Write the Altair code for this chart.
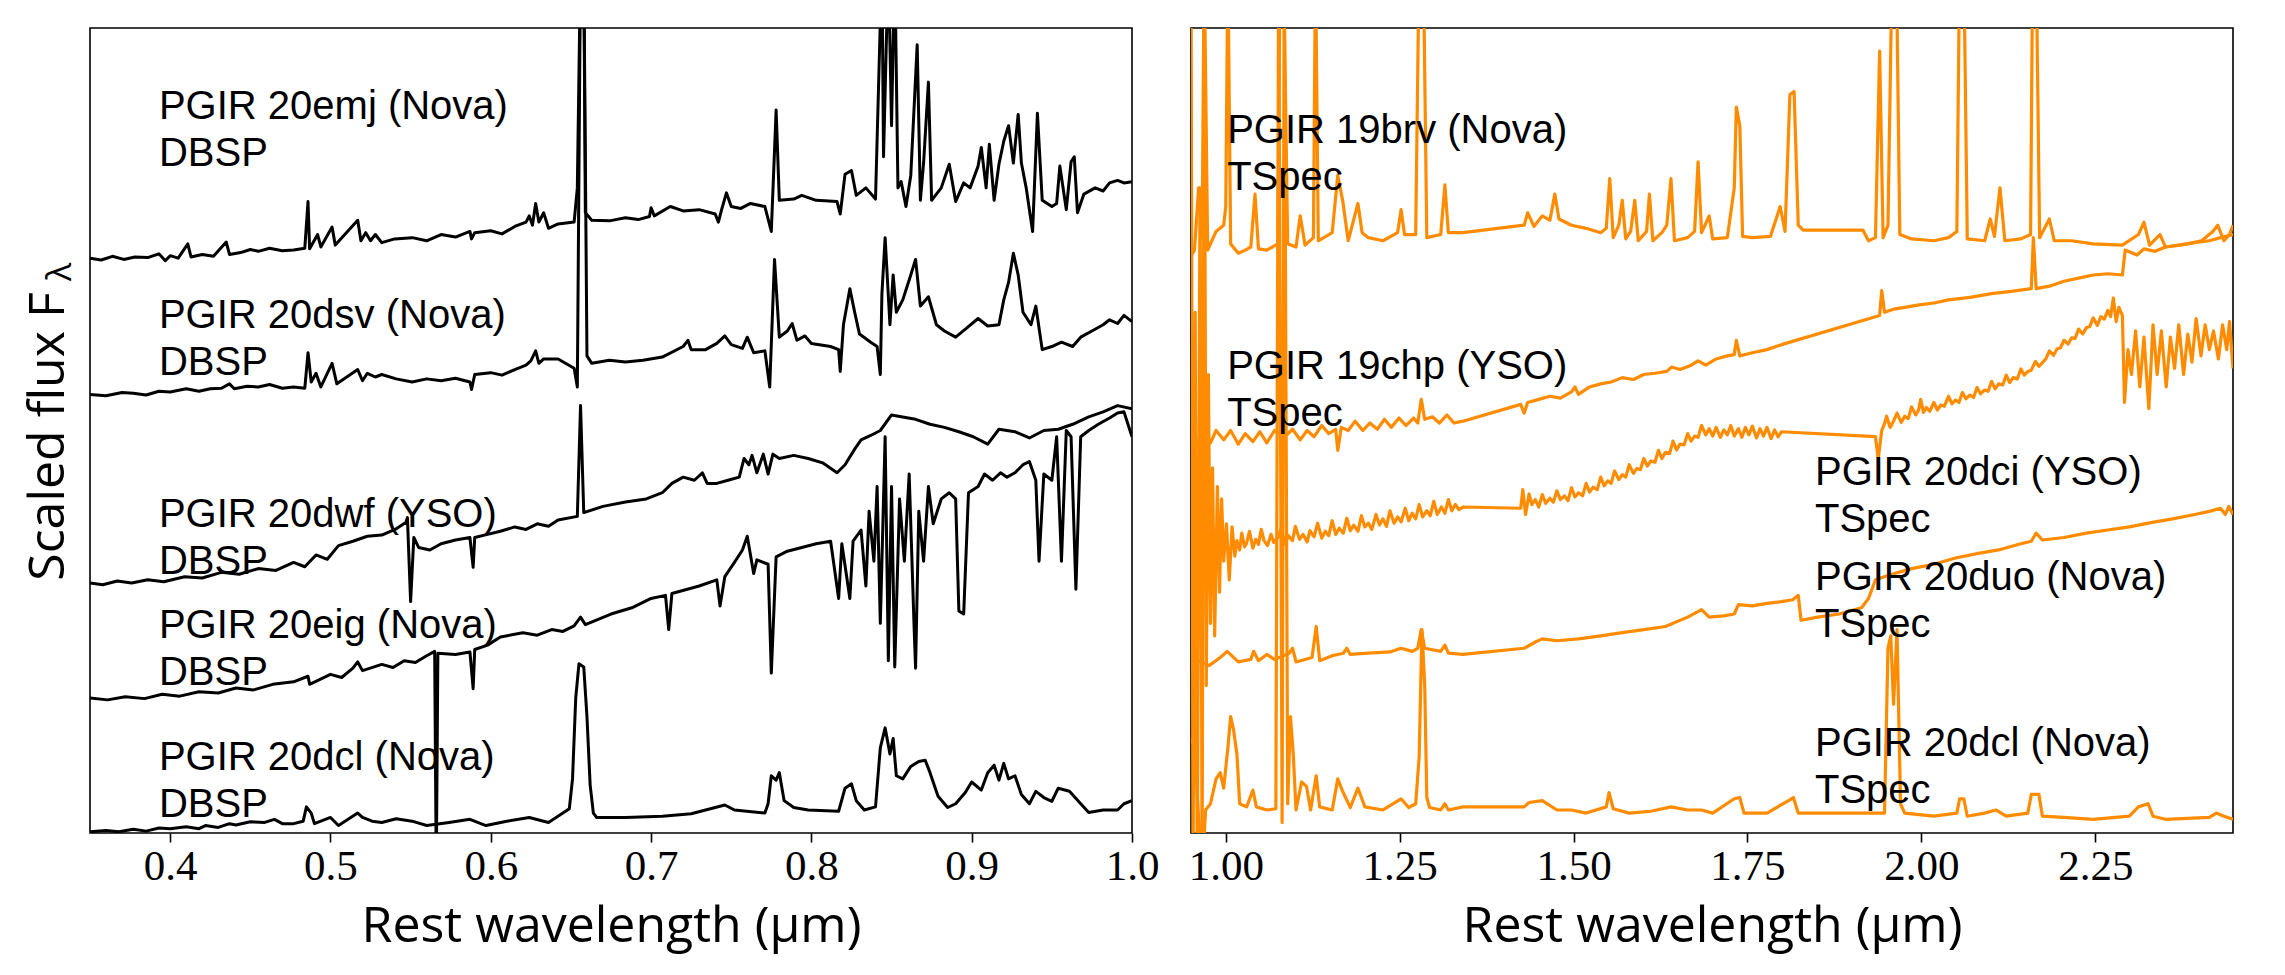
import altair as alt
import pandas as pd

# ---------------- Left panel (DBSP, optical) ----------------
emj_wl = [0.350,0.357,0.364,0.371,0.378,0.386,0.393,0.397,0.400,0.405,0.411,0.413,0.420,0.427,0.435,0.437,0.444,0.450,0.455,0.462,0.470,0.477,0.484,0.486,0.487,0.492,0.494,0.501,0.503,0.517,0.519,0.522,0.525,0.528,0.532,0.540,0.551,0.560,0.569,0.578,0.587,0.588,0.590,0.600,0.607,0.615,0.622,0.624,0.626,0.628,0.630,0.633,0.636,0.642,0.652,0.654,0.656,0.658,0.659,0.663,0.674,0.684,0.692,0.699,0.700,0.702,0.712,0.720,0.730,0.740,0.742,0.744,0.747,0.750,0.756,0.762,0.771,0.775,0.778,0.780,0.789,0.794,0.803,0.816,0.818,0.821,0.825,0.828,0.834,0.840,0.844,0.845,0.848,0.850,0.852,0.854,0.856,0.859,0.862,0.866,0.868,0.870,0.873,0.875,0.881,0.886,0.890,0.895,0.899,0.904,0.906,0.909,0.911,0.914,0.917,0.920,0.923,0.926,0.929,0.931,0.934,0.938,0.941,0.944,0.950,0.953,0.955,0.959,0.962,0.964,0.966,0.970,0.977,0.982,0.986,0.991,0.995,1.000]
emj_flux = [9.24,9.21,9.27,9.22,9.26,9.25,9.31,9.20,9.28,9.24,9.47,9.26,9.30,9.27,9.50,9.30,9.33,9.38,9.35,9.40,9.36,9.37,9.40,10.15,9.39,9.62,9.42,9.74,9.45,9.85,9.52,9.65,9.52,9.62,9.49,9.55,9.57,9.52,9.62,9.58,9.67,9.55,9.65,9.68,9.63,9.75,9.82,9.92,9.77,10.12,9.82,9.97,9.72,9.79,9.82,10.37,14.0,14.0,9.97,9.85,9.84,9.89,9.86,9.91,10.05,9.92,10.07,10.00,10.02,9.95,9.82,10.02,10.29,10.07,10.04,10.12,10.07,9.67,11.62,10.17,10.19,10.25,10.17,10.15,9.95,10.59,10.65,10.25,10.37,10.19,14.0,10.87,14.0,11.37,14.0,10.37,10.47,10.07,10.57,12.67,10.17,10.77,12.07,10.17,10.37,10.75,10.15,10.45,10.37,10.72,11.02,10.37,11.07,10.17,10.75,11.12,11.37,10.77,11.55,10.77,10.37,9.67,11.57,10.17,10.07,10.12,10.72,10.02,10.79,10.87,9.97,10.27,10.37,10.32,10.45,10.49,10.45,10.47]

dsv_wl = [0.350,0.360,0.370,0.377,0.385,0.393,0.400,0.410,0.418,0.425,0.432,0.437,0.440,0.448,0.455,0.462,0.470,0.477,0.484,0.486,0.488,0.491,0.494,0.501,0.504,0.517,0.520,0.523,0.528,0.532,0.541,0.551,0.560,0.569,0.578,0.587,0.588,0.590,0.600,0.607,0.615,0.622,0.625,0.628,0.630,0.633,0.642,0.652,0.654,0.656,0.658,0.660,0.663,0.674,0.684,0.695,0.707,0.720,0.723,0.725,0.734,0.741,0.746,0.750,0.757,0.760,0.764,0.771,0.774,0.777,0.780,0.785,0.788,0.791,0.796,0.800,0.812,0.817,0.818,0.820,0.824,0.827,0.830,0.837,0.841,0.843,0.844,0.846,0.849,0.851,0.853,0.857,0.862,0.865,0.868,0.873,0.878,0.883,0.890,0.897,0.904,0.910,0.917,0.920,0.923,0.926,0.929,0.932,0.937,0.940,0.944,0.950,0.956,0.963,0.968,0.975,0.982,0.986,0.991,0.995,1.000]
dsv_flux = [7.05,7.03,7.08,7.07,7.04,7.10,7.09,7.14,7.10,7.14,7.15,7.22,7.14,7.18,7.17,7.21,7.15,7.17,7.15,7.72,7.25,7.39,7.17,7.55,7.22,7.45,7.27,7.39,7.33,7.37,7.30,7.25,7.30,7.27,7.31,7.25,7.13,7.37,7.40,7.36,7.45,7.52,7.59,7.75,7.55,7.62,7.62,7.47,7.17,14.0,14.0,7.67,7.55,7.60,7.57,7.60,7.65,7.82,7.92,7.77,7.77,7.87,7.99,7.85,7.79,7.97,7.72,7.75,7.17,9.22,7.97,8.07,8.19,7.92,7.99,7.87,7.82,7.77,7.42,8.17,8.75,8.37,8.02,7.89,7.82,7.37,8.67,9.57,8.17,8.97,8.37,8.57,8.97,9.22,8.47,8.62,8.17,8.07,7.97,8.12,8.27,8.15,8.17,8.57,8.85,9.32,8.97,8.37,8.17,8.47,7.77,7.82,7.89,7.82,7.97,8.07,8.17,8.25,8.19,8.32,8.22]

dwf_wl = [0.350,0.358,0.367,0.376,0.386,0.396,0.409,0.420,0.432,0.443,0.455,0.466,0.477,0.484,0.491,0.498,0.505,0.514,0.523,0.532,0.541,0.547,0.548,0.550,0.552,0.555,0.562,0.569,0.578,0.587,0.589,0.590,0.598,0.606,0.615,0.622,0.629,0.636,0.642,0.654,0.656,0.658,0.670,0.684,0.697,0.707,0.713,0.720,0.727,0.732,0.735,0.741,0.748,0.755,0.758,0.761,0.763,0.766,0.770,0.773,0.776,0.780,0.789,0.798,0.807,0.816,0.821,0.827,0.831,0.837,0.843,0.850,0.856,0.865,0.874,0.883,0.892,0.901,0.910,0.917,0.927,0.936,0.945,0.954,0.963,0.973,0.982,0.991,1.000]
dwf_flux = [4.02,3.99,4.05,4.02,4.07,4.04,4.12,4.10,4.19,4.16,4.25,4.22,4.35,4.28,4.47,4.40,4.62,4.69,4.77,4.79,4.89,4.99,5.07,3.72,4.75,4.59,4.55,4.65,4.71,4.75,4.27,4.75,4.80,4.85,4.92,4.88,4.97,4.93,5.03,5.09,6.87,5.15,5.25,5.32,5.37,5.47,5.62,5.72,5.67,5.79,5.62,5.62,5.67,5.72,6.02,5.92,6.07,5.79,6.09,5.77,6.09,6.02,6.07,6.02,5.95,5.79,5.92,6.17,6.32,6.39,6.47,6.72,6.69,6.65,6.57,6.52,6.45,6.37,6.25,6.49,6.45,6.35,6.47,6.49,6.57,6.69,6.77,6.87,6.82]

eig_wl = [0.350,0.361,0.372,0.384,0.395,0.406,0.418,0.430,0.441,0.452,0.464,0.477,0.486,0.487,0.500,0.507,0.514,0.517,0.520,0.532,0.539,0.546,0.553,0.560,0.565,0.566,0.567,0.578,0.587,0.589,0.590,0.598,0.606,0.620,0.629,0.638,0.645,0.652,0.656,0.659,0.675,0.688,0.700,0.709,0.711,0.713,0.730,0.741,0.743,0.746,0.752,0.757,0.760,0.764,0.766,0.773,0.775,0.778,0.785,0.794,0.803,0.812,0.817,0.819,0.824,0.826,0.831,0.834,0.836,0.839,0.841,0.843,0.846,0.848,0.850,0.852,0.855,0.858,0.861,0.864,0.865,0.867,0.870,0.873,0.876,0.881,0.886,0.890,0.892,0.895,0.898,0.904,0.908,0.913,0.918,0.922,0.927,0.932,0.936,0.940,0.942,0.945,0.950,0.953,0.956,0.959,0.962,0.965,0.968,0.973,0.979,0.986,0.991,0.995,1.000]
eig_flux = [2.17,2.14,2.19,2.16,2.23,2.20,2.27,2.25,2.33,2.30,2.39,2.43,2.52,2.39,2.55,2.50,2.65,2.75,2.61,2.71,2.66,2.77,2.74,2.85,2.92,-0.63,2.89,2.87,2.91,2.32,2.95,3.02,3.15,3.22,3.18,3.27,3.24,3.33,3.47,3.35,3.52,3.62,3.77,3.82,3.27,3.85,3.97,4.07,3.65,4.12,4.35,4.55,4.77,4.17,4.39,4.32,2.57,4.44,4.53,4.59,4.65,4.69,3.77,4.65,3.77,4.69,4.87,3.97,5.17,4.37,5.57,3.37,6.37,2.77,5.57,2.67,5.37,4.37,5.77,3.37,2.65,5.17,4.37,5.57,4.97,5.37,5.47,5.37,3.57,3.52,5.47,5.57,5.77,5.67,5.79,5.72,5.79,5.92,5.97,5.67,4.37,5.77,5.67,6.37,4.37,6.47,6.37,3.92,6.37,6.47,6.57,6.67,6.75,6.77,6.37]

dcl_wl = [0.350,0.360,0.368,0.377,0.385,0.393,0.400,0.410,0.418,0.422,0.430,0.437,0.441,0.450,0.459,0.465,0.470,0.477,0.483,0.485,0.488,0.490,0.500,0.505,0.517,0.520,0.526,0.532,0.541,0.551,0.560,0.574,0.587,0.597,0.610,0.624,0.636,0.645,0.649,0.651,0.653,0.655,0.658,0.660,0.662,0.664,0.666,0.684,0.707,0.725,0.734,0.746,0.752,0.771,0.773,0.775,0.778,0.780,0.783,0.789,0.798,0.817,0.821,0.825,0.828,0.833,0.840,0.843,0.846,0.849,0.851,0.853,0.857,0.862,0.867,0.871,0.874,0.879,0.885,0.890,0.896,0.900,0.906,0.910,0.914,0.917,0.920,0.923,0.927,0.931,0.936,0.940,0.945,0.950,0.954,0.961,0.968,0.973,0.982,0.991,0.995,1.000]
dcl_flux = [0.02,0.04,0.02,0.06,0.03,0.08,0.07,0.10,0.07,0.12,0.09,0.15,0.13,0.18,0.17,0.22,0.15,0.15,0.19,0.42,0.32,0.15,0.25,0.12,0.32,0.25,0.19,0.17,0.23,0.19,0.12,0.17,0.22,0.12,0.19,0.25,0.17,0.32,0.39,0.87,2.17,2.72,2.67,1.87,0.77,0.32,0.25,0.25,0.27,0.31,0.37,0.45,0.37,0.32,0.47,0.92,0.85,0.97,0.52,0.41,0.37,0.35,0.72,0.79,0.52,0.37,0.42,1.37,1.69,1.27,1.52,0.92,0.87,1.07,1.15,1.17,0.97,0.59,0.41,0.47,0.65,0.82,0.69,0.97,1.09,0.85,1.12,0.87,0.92,0.62,0.47,0.67,0.57,0.51,0.72,0.67,0.47,0.33,0.37,0.37,0.47,0.52]

# ---------------- Right panel (TSpec, near-IR) ----------------
brv_wl = [0.950,0.955,0.961,0.966,0.969,0.974,0.986,0.997,1.000,1.003,1.007,1.018,1.028,1.036,1.042,1.047,1.059,1.075,1.078,1.083,1.089,1.101,1.107,1.114,1.126,1.129,1.133,1.153,1.161,1.168,1.176,1.190,1.196,1.205,1.226,1.247,1.252,1.257,1.273,1.278,1.284,1.289,1.309,1.315,1.320,1.341,1.429,1.434,1.443,1.455,1.466,1.473,1.479,1.497,1.518,1.539,1.547,1.552,1.557,1.565,1.570,1.575,1.582,1.588,1.593,1.605,1.609,1.614,1.627,1.634,1.640,1.645,1.664,1.674,1.679,1.684,1.695,1.700,1.721,1.731,1.734,1.739,1.743,1.757,1.783,1.797,1.804,1.811,1.817,1.823,1.830,1.916,1.924,1.934,1.940,1.945,1.952,1.958,1.964,1.969,1.986,2.018,2.039,2.051,2.055,2.061,2.066,2.091,2.099,2.105,2.113,2.120,2.143,2.157,2.160,2.165,2.170,2.184,2.191,2.216,2.247,2.289,2.312,2.320,2.328,2.343,2.351,2.382,2.403,2.419,2.426,2.435,2.443,2.448]
brv_flux = [9.27,9.37,10.37,9.57,14.0,9.37,9.67,9.77,10.07,14.0,9.47,9.32,9.37,9.42,10.27,9.39,9.37,9.47,14.0,14.0,9.47,9.42,9.92,9.45,9.57,14.0,9.52,9.65,10.57,10.17,9.52,10.12,9.65,9.57,9.52,9.65,10.02,9.62,9.62,14.0,14.0,9.57,9.62,10.42,9.65,9.65,9.77,9.97,9.75,9.92,9.85,10.27,9.87,9.77,9.72,9.65,9.72,10.52,9.57,9.77,10.17,9.55,9.67,10.17,9.52,9.67,10.27,9.52,9.65,9.77,10.52,9.52,9.57,9.67,10.79,9.65,9.92,9.55,9.57,10.37,11.67,11.37,9.59,9.57,9.59,10.07,9.67,11.87,11.92,9.77,9.69,9.69,9.52,9.57,12.57,9.57,9.77,14.0,14.0,9.62,9.55,9.52,9.57,9.67,14.0,14.0,9.55,9.52,9.87,9.59,10.37,9.52,9.55,9.62,14.0,14.0,9.57,9.87,9.52,9.52,9.47,9.45,9.62,9.82,9.45,9.62,9.42,9.47,9.52,9.67,9.77,9.52,9.62,9.77]

chp_wl = [0.950,0.955,0.964,0.971,0.978,0.986,0.997,1.007,1.018,1.028,1.039,1.049,1.059,1.070,1.085,1.096,1.107,1.117,1.127,1.138,1.148,1.158,1.161,1.166,1.176,1.186,1.197,1.207,1.218,1.228,1.238,1.249,1.259,1.270,1.276,1.281,1.286,1.297,1.307,1.318,1.328,1.341,1.424,1.429,1.434,1.450,1.466,1.481,1.497,1.502,1.507,1.523,1.539,1.554,1.570,1.586,1.601,1.617,1.634,1.641,1.653,1.669,1.679,1.690,1.705,1.721,1.731,1.734,1.739,1.757,1.778,1.799,1.940,1.943,1.947,1.960,1.976,1.997,2.018,2.039,2.070,2.101,2.132,2.158,2.161,2.165,2.184,2.205,2.226,2.247,2.268,2.289,2.293,2.310,2.320,2.336,2.351,2.372,2.393,2.414,2.430,2.448]
chp_flux = [6.25,6.37,6.17,6.42,6.27,6.47,6.32,6.47,6.25,6.42,6.29,6.45,6.27,6.47,6.37,6.49,6.32,6.47,6.37,6.55,6.42,6.49,6.15,6.52,6.47,6.62,6.47,6.59,6.49,6.65,6.52,6.67,6.55,6.67,6.59,6.97,6.65,6.69,6.59,6.72,6.59,6.62,6.89,6.75,6.92,6.97,7.02,6.99,7.09,7.17,7.05,7.17,7.22,7.25,7.32,7.29,7.37,7.39,7.42,7.49,7.45,7.52,7.59,7.52,7.62,7.67,7.69,7.92,7.67,7.72,7.77,7.85,8.32,8.72,8.37,8.42,8.45,8.49,8.52,8.57,8.61,8.67,8.71,8.75,9.57,8.75,8.79,8.87,8.92,8.97,8.99,8.97,9.37,9.29,9.39,9.35,9.42,9.45,9.49,9.52,9.57,9.62]

dci_wl = [0.950,0.953,0.956,0.959,0.963,0.966,0.969,0.972,0.975,0.978,0.981,0.984,0.988,0.991,0.994,0.997,
          1.001,1.005,1.009,1.013,1.016,1.020,1.023,1.027,1.030,1.034,1.039,1.043,1.047,1.051,1.055,1.060,1.065,1.069,1.075,1.080,1.085,1.090,1.096,1.100,1.106,1.111,1.117,1.121,1.127,1.132,1.138,1.143,1.148,1.153,1.158,1.163,1.169,1.174,1.179,1.184,1.190,1.195,1.200,1.205,1.210,1.216,1.221,1.226,1.231,1.236,1.242,1.247,1.252,1.258,1.263,1.268,1.273,1.278,1.283,1.289,1.294,1.299,1.304,1.310,1.315,1.320,1.325,1.330,1.335,1.341,
          1.424,1.427,1.431,1.436,1.440,1.445,1.450,1.455,1.460,1.466,1.471,1.476,1.481,1.487,1.492,1.497,1.502,1.507,1.513,1.518,1.523,1.528,1.534,1.539,1.544,1.549,1.554,1.559,1.565,1.570,1.575,1.580,1.586,1.591,1.596,1.601,1.606,1.611,1.617,1.622,1.627,1.632,1.638,1.643,1.648,1.653,1.659,1.664,1.669,1.674,1.679,1.684,1.690,1.695,1.700,1.705,1.711,1.716,1.721,1.726,1.731,1.737,1.742,1.747,1.752,1.757,1.763,1.768,1.773,1.778,1.784,1.789,1.794,1.799,
          1.934,1.938,1.943,1.947,1.950,1.955,1.960,1.965,1.971,1.976,1.981,1.986,1.992,1.996,1.999,2.003,2.007,2.012,2.018,2.023,2.028,2.033,2.039,2.044,2.049,2.054,2.059,2.064,2.070,2.075,2.080,2.085,2.091,2.096,2.101,2.106,2.111,2.117,2.122,2.127,2.132,2.138,2.143,2.148,2.153,2.158,2.164,2.169,2.174,2.179,2.184,2.190,2.195,2.200,2.205,2.211,2.216,2.221,2.226,2.232,2.237,2.242,2.247,2.253,2.258,2.263,2.268,2.272,2.276,2.280,2.284,2.289,
          2.292,2.297,2.302,2.308,2.314,2.320,2.327,2.333,2.339,2.345,2.352,2.358,2.364,2.370,2.377,2.383,2.389,2.395,2.402,2.408,2.414,2.420,2.427,2.433,2.439,2.443,2.448]
dci_flux = [14.0,-0.63,8.37,-0.63,10.37,-0.63,14.0,2.37,7.37,3.37,5.87,3.17,5.57,3.87,5.37,4.37,
            4.97,4.07,4.92,4.45,4.70,4.55,4.82,4.60,4.66,4.85,4.58,4.72,4.64,4.88,4.70,4.62,4.80,4.67,4.75,4.90,4.64,4.78,4.70,4.93,4.72,4.80,4.68,4.86,4.76,4.98,4.74,4.85,4.78,5.02,4.80,4.90,4.82,5.06,4.86,4.95,4.85,5.10,4.92,4.98,4.88,5.12,4.95,5.05,4.93,5.18,4.98,5.08,5.00,5.22,5.02,5.14,5.05,5.28,5.08,5.18,5.10,5.33,5.12,5.24,5.14,5.36,5.18,5.28,5.20,5.24,
            5.22,5.52,5.12,5.45,5.28,5.36,5.24,5.44,5.30,5.38,5.32,5.50,5.36,5.42,5.34,5.55,5.40,5.47,5.42,5.62,5.48,5.56,5.52,5.72,5.58,5.66,5.62,5.82,5.68,5.76,5.72,5.92,5.78,5.86,5.84,6.02,5.90,5.98,5.96,6.15,6.02,6.12,6.10,6.30,6.16,6.25,6.24,6.42,6.30,6.38,6.36,6.55,6.40,6.50,6.38,6.52,6.36,6.48,6.40,6.55,6.38,6.50,6.36,6.52,6.40,6.54,6.35,6.50,6.38,6.52,6.34,6.48,6.37,6.45,
            6.37,6.02,6.47,6.58,6.70,6.52,6.62,6.75,6.60,6.70,6.66,6.85,6.72,6.80,6.97,6.76,6.84,6.78,6.92,6.80,6.88,6.86,7.02,6.90,6.96,6.92,7.08,6.98,7.04,7.00,7.16,7.06,7.12,7.10,7.26,7.14,7.22,7.20,7.36,7.24,7.32,7.30,7.46,7.36,7.42,7.44,7.58,7.50,7.56,7.62,7.75,7.68,7.78,7.80,7.92,7.86,7.96,7.95,8.10,8.02,8.12,8.14,8.28,8.16,8.30,8.26,8.40,8.30,8.60,8.22,8.45,8.32,
            6.92,7.77,7.37,8.07,7.17,7.97,6.82,8.17,7.37,8.07,7.17,7.97,7.47,8.17,7.37,8.02,7.57,8.27,7.67,8.17,7.77,8.07,7.62,8.17,7.77,8.22,7.47]

duo_wl = [0.950,0.960,0.976,0.992,1.002,1.018,1.036,1.040,1.047,1.059,1.070,1.091,1.096,1.101,1.124,1.130,1.135,1.153,1.169,1.174,1.179,1.205,1.236,1.252,1.268,1.276,1.281,1.286,1.309,1.315,1.320,1.341,1.429,1.445,1.455,1.476,1.507,1.539,1.570,1.601,1.632,1.664,1.684,1.695,1.716,1.731,1.737,1.757,1.778,1.799,1.815,1.823,1.827,1.851,1.882,1.914,1.924,1.934,1.955,1.986,2.018,2.049,2.080,2.111,2.143,2.158,2.165,2.174,2.205,2.237,2.268,2.299,2.330,2.361,2.393,2.414,2.430,2.437,2.442,2.448]
duo_flux = [2.67,2.77,2.69,2.82,2.92,2.75,2.79,2.92,2.77,2.87,2.79,2.89,2.97,2.75,2.82,3.32,2.77,2.85,2.89,2.97,2.87,2.89,2.91,2.97,2.92,2.97,3.27,2.97,2.92,3.02,2.89,2.87,2.97,3.07,3.12,3.09,3.12,3.17,3.22,3.27,3.32,3.47,3.59,3.47,3.49,3.52,3.67,3.65,3.69,3.72,3.75,3.82,3.42,3.47,3.52,3.62,3.77,4.07,4.15,4.25,4.32,4.42,4.49,4.55,4.65,4.69,4.82,4.71,4.75,4.82,4.87,4.92,4.99,5.05,5.12,5.17,5.22,5.12,5.25,5.12]

dclr_wl = [0.950,0.955,0.960,0.966,0.971,0.978,0.986,0.992,0.997,1.003,1.007,1.011,1.016,1.020,1.030,1.039,1.044,1.059,1.072,1.076,1.081,1.084,1.089,1.093,1.097,1.101,1.109,1.116,1.122,1.130,1.135,1.153,1.161,1.168,1.179,1.190,1.200,1.226,1.252,1.263,1.273,1.278,1.282,1.286,1.289,1.293,1.309,1.315,1.320,1.341,1.429,1.436,1.455,1.476,1.497,1.518,1.547,1.551,1.557,1.580,1.611,1.640,1.664,1.684,1.700,1.731,1.739,1.745,1.778,1.809,1.816,1.823,1.947,1.952,1.956,1.960,1.965,1.970,1.976,2.018,2.051,2.055,2.061,2.066,2.091,2.107,2.122,2.153,2.158,2.169,2.174,2.205,2.247,2.299,2.312,2.326,2.333,2.351,2.414,2.424,2.435,2.448]
dclr_flux = [1.52,1.37,0.42,-0.63,0.37,0.47,0.87,0.97,0.72,1.37,1.87,1.67,1.27,0.47,0.42,0.69,0.42,0.37,0.39,14.0,0.17,14.0,0.47,1.87,1.27,0.37,0.82,0.75,0.37,0.92,0.42,0.37,0.87,0.67,0.41,0.72,0.42,0.37,0.55,0.41,0.47,1.22,3.27,2.37,0.57,0.41,0.37,0.47,0.37,0.42,0.42,0.49,0.52,0.37,0.37,0.32,0.42,0.65,0.39,0.32,0.35,0.42,0.37,0.37,0.32,0.55,0.57,0.32,0.32,0.52,0.57,0.32,0.32,2.97,3.17,2.07,3.27,0.47,0.32,0.27,0.32,0.55,0.55,0.27,0.32,0.37,0.27,0.32,0.62,0.62,0.27,0.25,0.22,0.27,0.42,0.47,0.27,0.22,0.25,0.32,0.27,0.22]

# ---------------- Annotations ----------------
left_labels = ["PGIR 20emj (Nova)\nDBSP", "PGIR 20dsv (Nova)\nDBSP", "PGIR 20dwf (YSO)\nDBSP",
               "PGIR 20eig (Nova)\nDBSP", "PGIR 20dcl (Nova)\nDBSP"]
left_label_wl = [0.393, 0.393, 0.393, 0.393, 0.393]
left_label_flux = [11.47, 8.11, 4.92, 3.14, 1.02]

right_labels = ["PGIR 19brv (Nova)\nTSpec", "PGIR 19chp (YSO)\nTSpec", "PGIR 20dci (YSO)\nTSpec",
                "PGIR 20duo (Nova)\nTSpec", "PGIR 20dcl (Nova)\nTSpec"]
right_label_wl = [1.002, 1.002, 1.847, 1.847, 1.847]
right_label_flux = [11.09, 7.30, 5.59, 3.91, 1.24]

left_ticks = [0.4, 0.5, 0.6, 0.7, 0.8, 0.9, 1.0]
right_ticks = [1.0, 1.25, 1.5, 1.75, 2.0, 2.25]


def frame(spectra):
    rows = []
    for name, wl, fl in spectra:
        for i, (w, f) in enumerate(zip(wl, fl)):
            rows.append({"name": name, "idx": i, "wl": w, "flux": f})
    return pd.DataFrame(rows)


left_df = frame([("20emj", emj_wl, emj_flux), ("20dsv", dsv_wl, dsv_flux), ("20dwf", dwf_wl, dwf_flux),
                 ("20eig", eig_wl, eig_flux), ("20dcl", dcl_wl, dcl_flux)])
right_df = frame([("19brv", brv_wl, brv_flux), ("19chp", chp_wl, chp_flux), ("20dci", dci_wl, dci_flux),
                  ("20duo", duo_wl, duo_flux), ("20dcl", dclr_wl, dclr_flux)])
left_lab = pd.DataFrame({"label": left_labels, "wl": left_label_wl, "flux": left_label_flux})
right_lab = pd.DataFrame({"label": right_labels, "wl": right_label_wl, "flux": right_label_flux})

W, H = 1042, 805
YDOM = [0, 12.94]
SANS = "Open Sans"
LABEL_FONT = "Liberation Sans"
SERIF = "Liberation Serif"


def xaxis(values, fmt):
    return alt.Axis(values=values, format=fmt, title="Rest wavelength (\u03bcm)", grid=False, domain=False,
                    labelFont=SERIF, labelFontSize=43, labelColor="black", labelPadding=3,
                    labelFlush=False, labelOverlap=False,
                    tickColor="black", tickSize=9, tickWidth=1.6,
                    titleFont=SANS, titleFontSize=50, titleFontWeight="normal", titleColor="black",
                    titleY=108, titleBaseline="alphabetic")


def label_layer(df):
    return alt.Chart(df).mark_text(align="left", baseline="alphabetic", lineBreak="\n", lineHeight=47,
                                   font=LABEL_FONT, fontSize=40, color="black").encode(
        x="wl:Q", y="flux:Q", text="label:N")


left_lines = alt.Chart(left_df).mark_line(clip=True, strokeWidth=3.0, color="black", strokeJoin="round").encode(
    x=alt.X("wl:Q", scale=alt.Scale(domain=[0.35, 1.0], nice=False, zero=False), axis=xaxis(left_ticks, ".1f")),
    y=alt.Y("flux:Q", scale=alt.Scale(domain=YDOM, nice=False, zero=False),
            axis=alt.Axis(labels=False, ticks=False, domain=False, grid=False, title="Scaled flux F",
                          titleFont=SANS, titleFontSize=50, titleFontWeight="normal", titleColor="black",
                          titleAngle=270, titleX=-27, titleY=408, titleAlign="center",
                          titleBaseline="alphabetic")),
    detail="name:N",
    order="idx:Q",
)
lam = alt.Chart(pd.DataFrame({"t": ["\u03bb"]})).mark_text(
    angle=270, align="center", baseline="alphabetic", font=SANS, fontSize=34, color="black").encode(
    x=alt.value(-19), y=alt.value(244), text="t:N")
left = alt.layer(left_lines, label_layer(left_lab), lam).properties(width=W, height=H)

right_lines = alt.Chart(right_df).mark_line(clip=True, strokeWidth=3.2, color="#FF8C00", strokeJoin="round").encode(
    x=alt.X("wl:Q", scale=alt.Scale(domain=[0.95, 2.448], nice=False, zero=False), axis=xaxis(right_ticks, ".2f")),
    y=alt.Y("flux:Q", scale=alt.Scale(domain=YDOM, nice=False, zero=False), axis=None),
    detail="name:N",
    order="idx:Q",
)
right = alt.layer(right_lines, label_layer(right_lab)).properties(width=W, height=H)

chart = alt.hconcat(left, right, spacing=59, bounds="flush").properties(
    padding={"left": 14, "top": 19, "right": 5, "bottom": 5},
    background="white",
).configure_view(stroke="black", strokeWidth=1.6)

chart.save("out.html", embed_options={"renderer": "svg", "actions": False})
